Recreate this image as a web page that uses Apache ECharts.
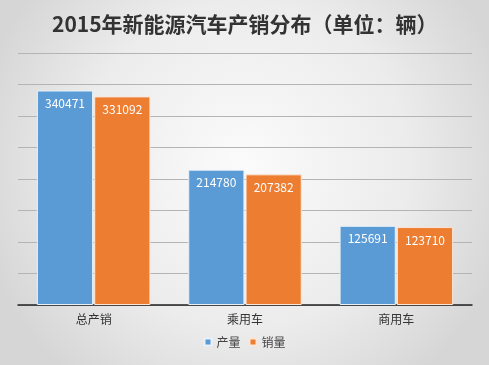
<!DOCTYPE html>
<html><head><meta charset="utf-8">
<script src="https://cdn.jsdelivr.net/npm/echarts@6/dist/echarts.min.js"></script>
<style>html,body{margin:0;padding:0;}#c{width:489px;height:365px;}</style>
</head><body><div id="c"></div>
<script>
const categories = ['总产销', '乘用车', '商用车'];
const production = [340471, 214780, 125691];
const sales = [331092, 207382, 123710];
const seriesNames = ['产量', '销量'];

const chart = echarts.init(document.getElementById('c'));
chart.setOption({
  backgroundColor: {
    type: 'radial', x: 0.5, y: 0.45, r: 0.75,
    colorStops: [{offset: 0, color: '#fbfbfb'}, {offset: 0.6, color: '#ececec'}, {offset: 1, color: '#d6d6d6'}]
  },
  textStyle: {fontFamily: '"Noto Sans CJK SC", "Noto Sans", sans-serif'},
  title: {
    text: '2015年新能源汽车产销分布（单位：辆）',
    left: 47, top: 9,
    textStyle: {fontSize: 21, fontWeight: 'bold', color: '#333', fontFamily: '"Noto Sans CJK SC", sans-serif'}
  },
  legend: {
    data: seriesNames, bottom: 12, left: 'center',
    icon: 'rect', itemWidth: 7, itemHeight: 7, itemGap: 8,
    textStyle: {fontSize: 12, color: '#444'}
  },
  grid: {left: 18, right: 17, top: 53, bottom: 60},
  xAxis: {
    type: 'category', data: categories,
    axisLine: {lineStyle: {color: '#222', width: 1.5}},
    axisTick: {show: false},
    axisLabel: {fontSize: 12, color: '#333', margin: 8}
  },
  yAxis: {
    type: 'value', min: 0, max: 400000, interval: 50000,
    axisLabel: {show: false},
    axisLine: {show: false}, axisTick: {show: false},
    splitLine: {lineStyle: {color: '#b4b4b4', width: 1}}
  },
  series: [
    {name: seriesNames[0], type: 'bar', data: production, barGap: '2%', barCategoryGap: '25%',
     itemStyle: {color: '#5b9bd5', borderColor: '#e8f0f8', borderWidth: 1},
     label: {show: true, position: 'insideTop', distance: 7, color: '#fff', fontSize: 12}},
    {name: seriesNames[1], type: 'bar', data: sales,
     itemStyle: {color: '#ed7d31', borderColor: '#fbe6d8', borderWidth: 1},
     label: {show: true, position: 'insideTop', distance: 7, color: '#fff', fontSize: 12}}
  ]
});
</script></body></html>
